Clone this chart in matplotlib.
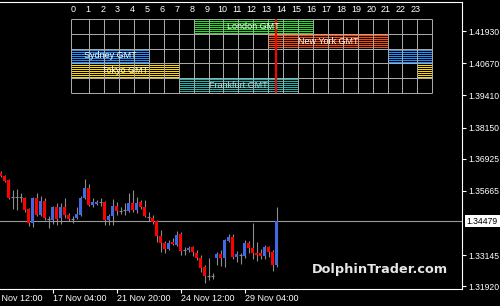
import numpy as np
import matplotlib
matplotlib.use('Agg')
import matplotlib.pyplot as plt
import matplotlib.transforms as mtrans

plt.rcParams['font.family'] = ['Liberation Sans', 'DejaVu Sans']

# candles, oldest first
opens = [1.3636, 1.3625, 1.3609, 1.3542, 1.3542, 1.3542, 1.3538, 1.3495, 1.3440, 1.3538,
         1.3471, 1.3526, 1.3456, 1.3452, 1.3503, 1.3460, 1.3503, 1.3471, 1.3456, 1.3460,
         1.3471, 1.3538, 1.3578, 1.3511, 1.3515, 1.3522, 1.3522, 1.3452, 1.3468, 1.3507,
         1.3487, 1.3491, 1.3487, 1.3519, 1.3491, 1.3522, 1.3503, 1.3464, 1.3460, 1.3448,
         1.3389, 1.3361, 1.3338, 1.3365, 1.3354, 1.3397, 1.3334, 1.3334, 1.3346, 1.3322,
         1.3303, 1.3267, 1.3232, 1.3232, 1.3303, 1.3318, 1.3303, 1.3369, 1.3385, 1.3306,
         1.3314, 1.3310, 1.3361, 1.3342, 1.3322, 1.3322, 1.3310, 1.3346, 1.3326, 1.3275]
highs = [1.3644, 1.3629, 1.3613, 1.3570, 1.3574, 1.3558, 1.3542, 1.3499, 1.3542, 1.3558,
         1.3546, 1.3538, 1.3468, 1.3507, 1.3519, 1.3519, 1.3538, 1.3479, 1.3468, 1.3503,
         1.3546, 1.3613, 1.3593, 1.3538, 1.3530, 1.3538, 1.3526, 1.3475, 1.3534, 1.3522,
         1.3503, 1.3519, 1.3558, 1.3570, 1.3542, 1.3530, 1.3530, 1.3483, 1.3471, 1.3452,
         1.3413, 1.3369, 1.3373, 1.3381, 1.3409, 1.3405, 1.3346, 1.3350, 1.3350, 1.3334,
         1.3314, 1.3275, 1.3303, 1.3244, 1.3326, 1.3334, 1.3377, 1.3397, 1.3397, 1.3330,
         1.3322, 1.3373, 1.3369, 1.3440, 1.3365, 1.3338, 1.3354, 1.3350, 1.3334, 1.3503]
lows = [1.3621, 1.3601, 1.3534, 1.3495, 1.3491, 1.3522, 1.3483, 1.3428, 1.3424, 1.3468,
        1.3468, 1.3452, 1.3420, 1.3436, 1.3432, 1.3436, 1.3460, 1.3448, 1.3440, 1.3456,
        1.3468, 1.3534, 1.3507, 1.3503, 1.3511, 1.3507, 1.3432, 1.3432, 1.3432, 1.3471,
        1.3475, 1.3471, 1.3483, 1.3483, 1.3479, 1.3495, 1.3464, 1.3448, 1.3436, 1.3365,
        1.3326, 1.3322, 1.3334, 1.3354, 1.3350, 1.3314, 1.3314, 1.3326, 1.3310, 1.3295,
        1.3248, 1.3204, 1.3216, 1.3220, 1.3275, 1.3271, 1.3267, 1.3365, 1.3299, 1.3287,
        1.3279, 1.3303, 1.3322, 1.3299, 1.3291, 1.3299, 1.3299, 1.3306, 1.3251, 1.3267]
closes = [1.3625, 1.3605, 1.3538, 1.3542, 1.3542, 1.3542, 1.3491, 1.3440, 1.3538, 1.3471,
          1.3526, 1.3460, 1.3456, 1.3503, 1.3456, 1.3503, 1.3471, 1.3456, 1.3456, 1.3475,
          1.3538, 1.3578, 1.3511, 1.3522, 1.3522, 1.3522, 1.3452, 1.3468, 1.3507, 1.3487,
          1.3487, 1.3491, 1.3519, 1.3491, 1.3519, 1.3503, 1.3468, 1.3464, 1.3444, 1.3389,
          1.3361, 1.3338, 1.3361, 1.3358, 1.3393, 1.3330, 1.3334, 1.3342, 1.3326, 1.3303,
          1.3263, 1.3232, 1.3232, 1.3232, 1.3318, 1.3303, 1.3373, 1.3385, 1.3306, 1.3318,
          1.3314, 1.3361, 1.3342, 1.3322, 1.3314, 1.3310, 1.3346, 1.3326, 1.3275, 1.34479]
last_price = 1.34479

price_ticks = [1.41930, 1.40670, 1.39410, 1.38150, 1.36925, 1.35665, 1.33145, 1.31920]
time_ticks = [-3, 13, 29, 45, 61]
time_labels = ['13 Nov 12:00', '17 Nov 04:00', '21 Nov 20:00', '24 Nov 12:00', '29 Nov 04:00']

# market sessions box (GMT hours)
sessions = ['London GMT', 'New York GMT', 'Sydney GMT', 'Tokyo GMT', 'Frankfurt GMT']
session_hours = [[(8, 16)], [(13, 21)], [(0, 5), (21, 24)], [(0, 7), (23, 24)], [(7, 15)]]
session_colors = ['#22dd22', '#ff4500', '#1e90ff', '#ffd700', '#20b2aa']
label_colors = ['white', 'white', 'white', 'white', '#cfcfcf']
now_hour = 13.5

fig = plt.figure(figsize=(5, 3.06), dpi=100, facecolor='black')
ax = fig.add_axes([0, 17 / 306, 462 / 500, 287 / 306], facecolor='black')

o = np.array(opens)
c = np.array(closes)
x = np.arange(len(o))
up = c > o
dn = c < o
flat = c == o
ax.vlines(x, lows, highs, color='#8c8c8c', lw=0.8)
ax.bar(x[up], (c - o)[up], bottom=o[up], width=0.7, color='#4169e1', zorder=3)
ax.bar(x[dn], (c - o)[dn], bottom=o[dn], width=0.7, color='#ff0000', zorder=3)
ax.hlines(o[flat], x[flat] - 0.4, x[flat] + 0.4, color='#8c8c8c', lw=0.8)
ax.axhline(last_price, color='#9a9a9a', lw=0.8, zorder=2)

ax.set_xlim(-0.125, 115.375)
ax.set_ylim(1.3181, 1.4308)

ax.spines['left'].set_visible(False)
for s in ['top', 'right', 'bottom']:
    ax.spines[s].set_color('white')
    ax.spines[s].set_linewidth(0.8)

ax.yaxis.tick_right()
ax.set_yticks(price_ticks)
ax.set_yticklabels([f'{v:.5f}' for v in price_ticks])
ax.tick_params(axis='y', colors='white', length=3, width=0.8, pad=1.5, labelsize=6.2)

ax.set_xticks(time_ticks[1:])
ax.tick_params(axis='x', colors='white', length=3, width=0.8, labelbottom=False)
xtrans = mtrans.blended_transform_factory(ax.transData, ax.transAxes)
for t, lab in zip(time_ticks, time_labels):
    ax.annotate(lab, xy=(t, 0), xycoords=xtrans, xytext=(0.5, -3.5),
                textcoords='offset points', ha='left', va='top',
                color='white', fontsize=6.5, annotation_clip=False)

ytrans = mtrans.blended_transform_factory(ax.transAxes, ax.transData)
ax.annotate(f'{last_price:.5f}', xy=(1, last_price), xycoords=ytrans,
            xytext=(3.5, 0), textcoords='offset points', ha='left', va='center',
            color='black', fontsize=6.2, annotation_clip=False,
            bbox=dict(boxstyle='square,pad=0.2', fc='white', ec='none'))

fig.text(380 / 500, 1 - 270 / 306, 'DolphinTrader.com', fontsize=9.3,
         fontweight='bold', family='DejaVu Sans', color='#e6e6e6',
         ha='center', va='center')

# sessions table
tab = fig.add_axes([71.3 / 500, (306 - 92.5) / 306, 361 / 500, 73.2 / 306])
tab.set_xlim(-0.2, 24)
tab.set_ylim(5, 0)
tab.axis('off')

stripes = (1.5 + 2 * np.arange(7)) / 14.64
for r, (name, hours, col) in enumerate(zip(sessions, session_hours, session_colors)):
    for a, b in hours:
        a = -0.2 if a == 0 else a
        tab.hlines(r + stripes, a, b, color=col, lw=0.72, antialiased=False)
    a, b = hours[0]
    a = -0.2 if a == 0 else a
    tab.text((a + b) / 2, r + 0.5, name, ha='center', va='center',
             color=label_colors[r], fontsize=6.5)

grid = dict(color='#a8a8a8', lw=0.72, clip_on=False)
tab.hlines(np.arange(6), -0.2, 24, **grid)
tab.vlines(np.arange(1, 24), 0, 5, **grid)
tab.vlines([-0.2, 24], 0, 5, **grid)
for h in range(24):
    tab.text(h - 0.1, -0.68, str(h), ha='center', va='center',
             color='white', fontsize=6.5, clip_on=False)
tab.vlines(now_hour, 0, 5, color='red', lw=1.5, clip_on=False)

fig.savefig('out.png', dpi=100, facecolor='black')
